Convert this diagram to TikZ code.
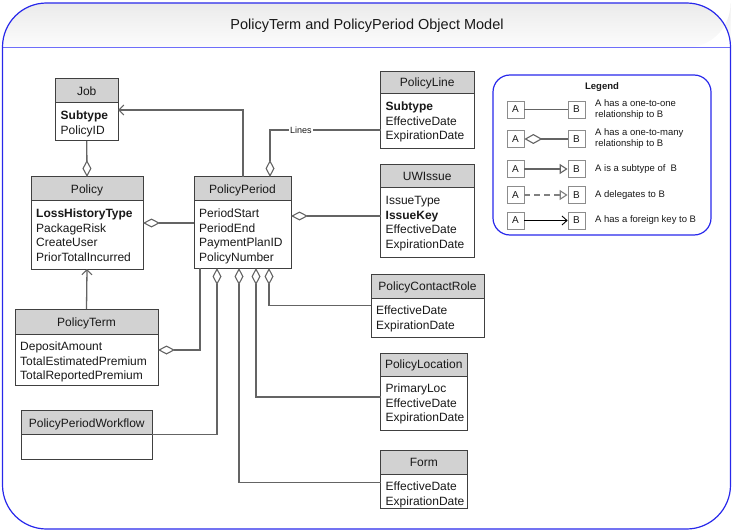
\documentclass[tikz,border=0pt]{standalone}
\usepackage{fontspec}
\setmainfont{Liberation Sans}
\usetikzlibrary{arrows.meta,calc}

\definecolor{frameblue}{RGB}{40,40,235}
\definecolor{divblue}{RGB}{110,110,250}
\definecolor{hdrgray}{RGB}{210,210,210}
\definecolor{boxline}{RGB}{64,64,64}
\definecolor{conncol}{RGB}{100,100,100}
\definecolor{txtcol}{RGB}{25,25,25}
\definecolor{lboxcol}{RGB}{140,140,140}

\newcommand\umlbodyfont{\fontsize{12}{14.5}\selectfont}
% name, x1, y1, x2, y2, ydiv, header, body
\newcommand\umlbox[8]{%
  \node[clsbox, minimum width={#4-#2}, minimum height={#5-#3}, anchor=north west] (#1) at (#2,#3) {};
  \draw[hdrbox] (#2,#3) rectangle (#4,#6);
  \node[hdrtext] (#1-h) at ({(#2+#4)/2},{#6-7.5}) {#7};
  \node[bodytext] (#1-b) at ({#2+5},{#6+6.5}) {\rule{0pt}{10pt}#8};
  \draw[boxline, line width=1.0] (#1.north west) rectangle (#1.south east);
}

\begin{document}
\begin{tikzpicture}[x=1pt,y=-1pt,
  clsbox/.style={draw=boxline, line width=1.0, fill=white, inner sep=0pt, outer sep=0pt},
  hdrbox/.style={draw=boxline, line width=1.0, fill=hdrgray},
  hdrtext/.style={anchor=base, inner sep=0pt, font=\umlbodyfont, text=txtcol},
  bodytext/.style={anchor=north west, inner sep=0pt, align=left, font=\umlbodyfont, text=txtcol},
  conn/.style={draw=conncol, line width=1.3},
  agg/.style={conn, {Diamond[open, length=17pt, width=9pt, line width=1.1pt]}-},
  fk/.style={conn, -{Straight Barb[length=5pt, width=10pt, line width=1.1pt]}},
  lbl/.style={fill=white, inner sep=1pt, font=\fontsize{9}{10}\selectfont, text=txtcol},
  lbox/.style={draw=lboxcol, line width=0.7, fill=white, minimum size=17pt, inner sep=0pt,
               font=\fontsize{10}{11}\selectfont, text=txtcol},
  ltext/.style={anchor=west, align=left, inner sep=0pt, font=\fontsize{9.5}{11}\selectfont, text=txtcol},
]
\useasboundingbox (0,0) rectangle (734,532);

% frame and header
\shade[top color=black!8, bottom color=black!1]
  (2.5,47.5) [rounded corners=44] -- (2.5,3) -- (730.5,3) -- (730.5,47.5) [sharp corners] -- cycle;
\draw[divblue, line width=1] (2.5,47.5) -- (730.5,47.5);
\draw[frameblue, line width=1.2, rounded corners=44] (2.5,3) rectangle (730.5,529);
\node[font=\fontsize{14.5}{16}\selectfont, text=txtcol, anchor=base] (title) at (367,30)
  {PolicyTerm and PolicyPeriod Object Model};

% classes
\umlbox{job}{55.5}{79}{118}{141}{103}{Job}{\textbf{Subtype}\\PolicyID}
\umlbox{policy}{31}{177}{143}{269}{201}{Policy}{\textbf{LossHistoryType}\\PackageRisk\\CreateUser\\PriorTotalIncurred}
\umlbox{pp}{194}{177}{291}{268}{201}{PolicyPeriod}{PeriodStart\\PeriodEnd\\PaymentPlanID\\PolicyNumber}
\umlbox{pline}{380.5}{71.5}{474}{149}{94}{PolicyLine}{\textbf{Subtype}\\EffectiveDate\\ExpirationDate}
\umlbox{uw}{380.5}{165}{474}{257}{188}{UWIssue}{IssueType\\\textbf{IssueKey}\\EffectiveDate\\ExpirationDate}
\umlbox{pcr}{371}{274}{484}{337}{298}{PolicyContactRole}{EffectiveDate\\ExpirationDate}
\umlbox{ploc}{380.5}{353}{467}{430}{376}{PolicyLocation}{PrimaryLoc\\EffectiveDate\\ExpirationDate}
\umlbox{form}{380.5}{450}{467}{508}{474}{Form}{EffectiveDate\\ExpirationDate}
\umlbox{pterm}{15}{309}{158}{385}{334}{PolicyTerm}{DepositAmount\\TotalEstimatedPremium\\TotalReportedPremium}
\umlbox{ppw}{21.5}{410.5}{152}{459}{434.5}{PolicyPeriodWorkflow}{}

% connectors
\coordinate (cJob) at (243,110);
\coordinate (cLines) at (270,130);
\coordinate (cUW) at (300,216);
\coordinate (cPT) at (200,350);
\coordinate (cW) at (217,434.5);
\coordinate (cF) at (239,482.5);
\coordinate (cL) at (256,397);
\coordinate (cC) at (269,305.5);

\draw[agg] (policy.north) -- (job.south);
\draw[fk] (pterm.north) -- (policy.south);
\draw[agg] (policy.east) -- (pp.west |- policy.east);
\draw[fk] (pp.north -| cJob) -- (cJob) -- (job.east |- cJob);
\draw[agg] (pp.north -| cLines) -- (cLines) -- node[lbl, pos=0.28] (lineslbl) {Lines} (pline.west |- cLines);
\draw[agg] (pp.east |- cUW) -- (uw.west |- cUW);
\draw[agg] (pterm.east |- cPT) -- (cPT) -- (pp.south -| cPT);
\draw[agg] (pp.south -| cW) -- (cW) -- (ppw.east |- cW);
\draw[agg] (pp.south -| cF) -- (cF) -- (form.west |- cF);
\draw[agg] (pp.south -| cL) -- (cL) -- (ploc.west |- cL);
\draw[agg] (pp.south -| cC) -- (cC) -- (pcr.west |- cC);

% legend
\draw[frameblue, line width=1.2, rounded corners=17] (493,75) rectangle (711,235);
\node[font=\bfseries\fontsize{9.5}{11}\selectfont, text=txtcol, anchor=base] (legtitle) at (602,89.5) {Legend};

\node[lbox] (la1) at (515.5,109.5) {A};
\node[lbox] (lb1) at (576.5,109.5) {B};
\node[lbox] (la2) at (515.5,139) {A};
\node[lbox] (lb2) at (576.5,139) {B};
\node[lbox] (la3) at (515.5,169) {A};
\node[lbox] (lb3) at (576.5,169) {B};
\node[lbox] (la4) at (515.5,195) {A};
\node[lbox] (lb4) at (576.5,195) {B};
\node[lbox] (la5) at (515.5,220.5) {A};
\node[lbox] (lb5) at (576.5,220.5) {B};

\draw[conn, line width=1.1] (la1) -- (lb1);
\draw[conn, line width=1.3, {Diamond[open, length=18pt, width=10pt, line width=1.1pt]}-] (la2) -- (lb2);
\draw[conn, line width=1.1, -{Triangle[open, length=8pt, width=10pt, line width=1.1pt]}] (la3) -- (lb3);
\draw[conn, draw=black!50, line width=1.3, dash pattern=on 6pt off 4pt, -{Triangle[open, length=8pt, width=10pt, line width=1.1pt]}] (la4) -- (lb4);
\draw[black, line width=0.9, -{Straight Barb[length=5pt, width=9pt, line width=0.9pt]}] (la5) -- (lb5);

\node[ltext] (lt1) at (595,109.5) {A has a one-to-one\\relationship to B};
\node[ltext] (lt2) at (595,138.5) {A has a one-to-many\\relationship to B};
\node[ltext] (lt3) at (595,169) {A is a subtype of \ B};
\node[ltext] (lt4) at (595,195) {A delegates to B};
\node[ltext] (lt5) at (595,220.5) {A has a foreign key to B};
\end{tikzpicture}
\end{document}
